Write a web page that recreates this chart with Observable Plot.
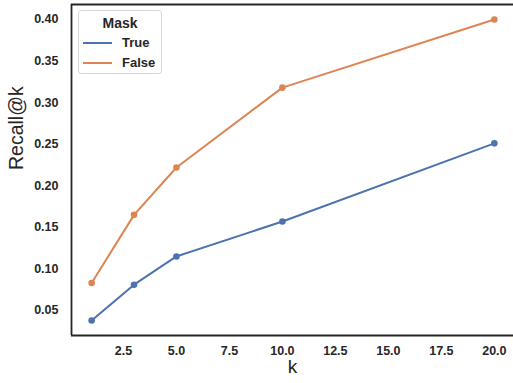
<!DOCTYPE html>
<html>
<head>
<meta charset="utf-8">
<script src="https://cdn.jsdelivr.net/npm/d3@7"></script>
<script src="https://cdn.jsdelivr.net/npm/@observablehq/plot@0.6"></script>
<style>
  html, body { margin: 0; padding: 0; background: #fff; overflow: hidden; }
  #wrap { position: relative; width: 513px; height: 383px; font-family: "Liberation Sans", Arial, sans-serif; }
  #legend { position: absolute; left: 78px; top: 10px; width: 82px; height: 62px; border: 1px solid #d6d6d6; border-radius: 3px; background: rgba(255,255,255,0.8); box-sizing: content-box; }
  #legend .title { position: absolute; left: 0; width: 100%; top: 4px; text-align: center; font-weight: bold; font-size: 14px; color: #262626; }
  #legend .item { position: absolute; left: 0; height: 16px; width: 100%; }
  #legend .swatch { position: absolute; left: 4px; top: 7px; width: 29px; height: 0; border-top: 2px solid; }
  #legend .lab { position: absolute; left: 43px; top: 0; font-weight: bold; font-size: 13px; color: #262626; line-height: 16px; }
</style>
</head>
<body>
<div id="wrap"></div>
<script>
const ks = [1, 3, 5, 10, 20];
const recallTrue = [0.038, 0.081, 0.115, 0.157, 0.251];
const recallFalse = [0.083, 0.165, 0.222, 0.318, 0.400];
const masks = ["True", "False"];
const colors = ["#4c72b0", "#dd8452"];
const xTicks = [2.5, 5, 7.5, 10, 12.5, 15, 17.5, 20];
const yTicks = [0.05, 0.10, 0.15, 0.20, 0.25, 0.30, 0.35, 0.40];
const xLabel = "k";
const yLabel = "Recall@k";
const legendTitle = "Mask";

const data = [];
ks.forEach((k, i) => {
  data.push({k, recall: recallTrue[i], mask: masks[0]});
});
ks.forEach((k, i) => {
  data.push({k, recall: recallFalse[i], mask: masks[1]});
});

const xDomain = [0.05, 20.95];
const yDomain = [0.0199, 0.418];
const frameColor = "#262626";

const chart = Plot.plot({
  width: 513,
  height: 383,
  marginLeft: 71,
  marginRight: 0,
  marginTop: 4,
  marginBottom: 48,
  style: {fontFamily: "'Liberation Sans', Arial, sans-serif", background: "#fff", overflow: "visible"},
  x: {domain: xDomain, range: [71, 514], ticks: xTicks, tickFormat: d3.format(".1f"), label: null},
  y: {domain: yDomain, range: [335, 4], ticks: yTicks, tickFormat: d3.format(".2f"), label: null},
  color: {domain: masks, range: colors},
  marks: [
    Plot.axisX({ticks: xTicks, tickFormat: d3.format(".1f"), tickSize: 0, tickPadding: 11, fontSize: 12.5, fontWeight: "bold", fill: "#262626", label: null}),
    Plot.axisY({ticks: yTicks, tickFormat: d3.format(".2f"), tickSize: 0, tickPadding: 13, fontSize: 12.5, fontWeight: "bold", fill: "#262626", label: null}),
    Plot.line(data, {x: "k", y: "recall", stroke: "mask", strokeWidth: 2}),
    Plot.dot(data, {x: "k", y: "recall", fill: "mask", r: 3.3}),
    Plot.ruleY([yDomain[0], yDomain[1]], {stroke: frameColor, strokeWidth: 1.8}),
    Plot.ruleX([xDomain[0]], {stroke: frameColor, strokeWidth: 1.8}),
    Plot.text([yLabel], {frameAnchor: "left", dx: -55, rotate: -90, fontSize: 19.5, fill: "#262626"}),
    Plot.text([xLabel], {frameAnchor: "bottom", dy: 37, fontSize: 19, fill: "#262626"})
  ]
});

const wrap = document.getElementById("wrap");
wrap.appendChild(chart);

const legend = document.createElement("div");
legend.id = "legend";
const t = document.createElement("div");
t.className = "title";
t.textContent = legendTitle;
legend.appendChild(t);
masks.forEach((m, i) => {
  const it = document.createElement("div");
  it.className = "item";
  it.style.top = (24 + i * 20) + "px";
  const sw = document.createElement("div");
  sw.className = "swatch";
  sw.style.borderTopColor = colors[i];
  const lb = document.createElement("div");
  lb.className = "lab";
  lb.textContent = m;
  it.appendChild(sw);
  it.appendChild(lb);
  legend.appendChild(it);
});
wrap.appendChild(legend);
</script>
</body>
</html>
